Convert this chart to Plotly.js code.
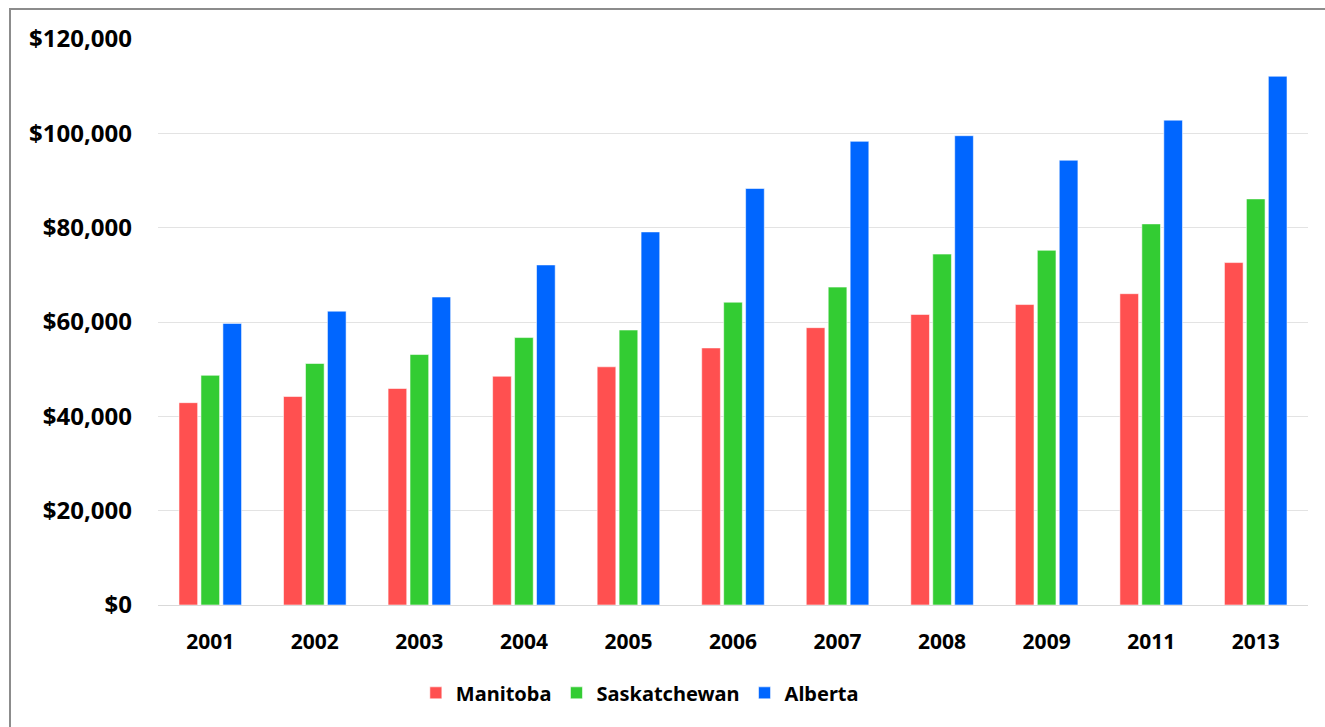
<!DOCTYPE html>
<html>
<head>
<meta charset="utf-8">
<script src="https://cdn.plot.ly/plotly-3.0.1.min.js"></script>
<style>
  html, body { margin: 0; padding: 0; background: #fff; overflow: hidden; }
  #chart { width: 1325px; height: 727px; position: absolute; left: 0; top: 0; }
  #frame { position: absolute; left: 9px; top: 8px; width: 1340px; height: 740px;
           border: 2px solid #8c8c8c; pointer-events: none; }
</style>
</head>
<body>
<div id="chart"></div>
<div id="frame"></div>
<script>
const years = ["2001", "2002", "2003", "2004", "2005", "2006", "2007", "2008", "2009", "2011", "2013"];
const manitoba = [42900, 44200, 45900, 48500, 50500, 54500, 58800, 61600, 63700, 66000, 72600];
const saskatchewan = [48700, 51200, 53100, 56700, 58300, 64200, 67400, 74400, 75200, 80800, 86100];
const alberta = [59700, 62300, 65300, 72100, 79100, 88300, 98300, 99500, 94300, 102800, 112100];
const yTicks = [0, 20000, 40000, 60000, 80000, 100000, 120000];
const yTickText = ["$0", "$20,000", "$40,000", "$60,000", "$80,000", "$100,000", "$120,000"];

const fontFam = "'Noto Sans', 'Open Sans', sans-serif";

function series(name, values, color) {
  return {
    type: "bar", name: name, x: years, y: values,
    marker: { color: color, line: { color: "rgba(255,255,255,0.55)", width: 1 } },
    hoverinfo: "x+y+name"
  };
}

const data = [
  series("Manitoba", manitoba, "#FF5050"),
  series("Saskatchewan", saskatchewan, "#33CC33"),
  series("Alberta", alberta, "#0066FF")
];

const layout = {
  width: 1325, height: 727,
  margin: { l: 158, r: 17, t: 39, b: 122 },
  paper_bgcolor: "rgba(0,0,0,0)", plot_bgcolor: "#fff",
  barmode: "group", bargap: 0.37, bargroupgap: 0.15,
  font: { family: fontFam, color: "#000" },
  xaxis: {
    type: "category", tickfont: { size: 21, family: fontFam, weight: "bold" },
    showline: true, linecolor: "#d9d9d9", linewidth: 1, ticks: "", ticklen: 0,
    showgrid: false, zeroline: false, ticklabelstandoff: 18, automargin: false
  },
  yaxis: {
    range: [0, 120000], tickvals: yTicks, ticktext: yTickText,
    tickfont: { size: 24, family: fontFam, weight: "bold" },
    showgrid: true, gridcolor: "#e3e3e3", gridwidth: 1,
    zeroline: false, showline: false, ticks: "", ticklabelstandoff: 25, automargin: false
  },
  showlegend: true,
  legend: {
    orientation: "h", x: 0.419, xanchor: "center",
    yref: "container", y: 0.047, yanchor: "middle",
    font: { size: 20, family: fontFam, weight: "bold" },
    itemwidth: 30, traceorder: "normal"
  }
};

Plotly.newPlot("chart", data, layout, { displayModeBar: false, staticPlot: true });
</script>
</body>
</html>
